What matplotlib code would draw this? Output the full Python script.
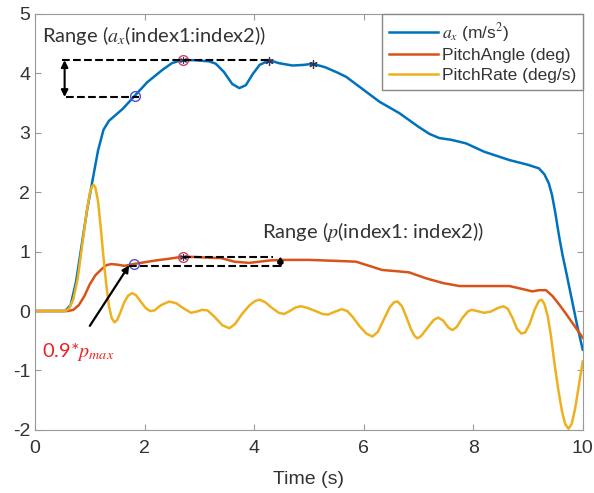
import numpy as np
import matplotlib
matplotlib.use("Agg")
import matplotlib.pyplot as plt

plt.rcParams['font.family'] = ['Liberation Sans', 'DejaVu Sans']
plt.rcParams['mathtext.fontset'] = 'stix'
plt.rcParams['axes.unicode_minus'] = False

# Longitudinal acceleration a_x (m/s^2)
t_ax = [0, 0.55, 0.65, 0.75, 0.85, 0.95, 1.05, 1.15, 1.25, 1.35, 1.45, 1.6, 1.82,
        2.05, 2.33, 2.5, 2.67, 2.9, 3.18, 3.3, 3.45, 3.6, 3.73, 3.85, 3.97, 4.1, 4.28, 4.45,
        4.7, 4.9, 5.07, 5.3, 5.5, 5.68, 6.0, 6.29, 6.65, 7.0, 7.2, 7.38, 7.6, 7.87,
        8.2, 8.66, 9.0, 9.2, 9.3, 9.38, 9.44, 9.5, 9.57, 9.63, 9.69, 9.8, 9.9, 10]
ax_vals = [0, 0, 0.1, 0.5, 1.1, 1.7, 2.2, 2.7, 3.05, 3.2, 3.28, 3.4, 3.62,
           3.85, 4.06, 4.17, 4.22, 4.22, 4.2, 4.16, 4.02, 3.82, 3.75, 3.8, 3.98, 4.14, 4.22, 4.17,
           4.13, 4.14, 4.16, 4.1, 4.02, 3.94, 3.72, 3.52, 3.33, 3.1, 2.98, 2.91, 2.88, 2.82,
           2.68, 2.54, 2.46, 2.4, 2.3, 2.15, 1.95, 1.65, 1.25, 0.95, 0.69, 0.2, -0.25, -0.65]

# Pitch angle (deg)
t_pa = [0, 0.6, 0.7, 0.8, 0.9, 1.0, 1.1, 1.21, 1.3, 1.39, 1.5, 1.63, 1.8, 2.0, 2.2,
        2.45, 2.67, 2.9, 3.1, 3.4, 3.64, 3.91, 4.1, 4.28, 4.5, 4.77, 5.0, 5.3, 5.6,
        5.86, 6.1, 6.34, 6.6, 6.83, 7.14, 7.45, 7.75, 8.2, 8.66, 8.9, 9.08, 9.2, 9.33,
        9.45, 9.57, 9.69, 9.85, 10]
pitch_angle = [0, 0, 0.02, 0.1, 0.25, 0.45, 0.6, 0.7, 0.77, 0.79, 0.78, 0.76, 0.79,
               0.82, 0.85, 0.88, 0.91, 0.91, 0.9, 0.89, 0.83, 0.81, 0.83, 0.85, 0.86,
               0.86, 0.86, 0.85, 0.84, 0.83, 0.76, 0.69, 0.67, 0.65, 0.55, 0.47, 0.42,
               0.42, 0.42, 0.37, 0.33, 0.35, 0.35, 0.25, 0.11, -0.04, -0.25, -0.45]

# Pitch rate (deg/s)
t_pr = [0, 0.55, 0.62, 0.7, 0.78, 0.86, 0.94, 1.0, 1.04, 1.07, 1.1, 1.15, 1.2, 1.25,
        1.3, 1.35, 1.4, 1.45, 1.5, 1.56, 1.63, 1.7, 1.77, 1.84, 1.92, 2.02, 2.1, 2.18,
        2.3, 2.45, 2.58, 2.72, 2.85, 2.95, 3.05, 3.15, 3.28, 3.42, 3.55, 3.65, 3.78,
        3.92, 4.02, 4.1, 4.2, 4.33, 4.45, 4.55, 4.65, 4.76, 4.86, 4.98, 5.12, 5.25,
        5.35, 5.48, 5.6, 5.7, 5.8, 5.92, 6.05, 6.16, 6.26, 6.38, 6.48, 6.56, 6.62,
        6.7, 6.78, 6.87, 6.93, 6.98, 7.05, 7.15, 7.28, 7.36, 7.45, 7.55, 7.62, 7.7,
        7.8, 7.9, 7.97, 8.07, 8.2, 8.32, 8.45, 8.55, 8.63, 8.72, 8.8, 8.88, 8.95,
        9.03, 9.12, 9.2, 9.25, 9.3, 9.36, 9.42, 9.48, 9.55, 9.62, 9.68, 9.74, 9.8,
        9.86, 9.93, 10]
pitch_rate = [0, 0, 0.04, 0.2, 0.55, 1.1, 1.65, 1.98, 2.1, 2.12, 2.08, 1.85, 1.4, 0.9,
              0.45, 0.08, -0.12, -0.19, -0.15, -0.02, 0.15, 0.26, 0.3, 0.27, 0.17, 0.05, 0.0, 0.01,
              0.1, 0.16, 0.13, 0.04, -0.03, -0.01, 0.02, 0.01, -0.1, -0.24, -0.29, -0.22, -0.05,
              0.1, 0.17, 0.19, 0.15, 0.05, -0.03, -0.05, 0.0, 0.06, 0.08, 0.05, 0.0, -0.05,
              -0.06, -0.01, 0.03, 0.0, -0.1, -0.25, -0.38, -0.43, -0.35, -0.12, 0.07, 0.15, 0.16,
              0.08, -0.1, -0.32, -0.42, -0.46, -0.42, -0.3, -0.15, -0.11, -0.16, -0.28, -0.32, -0.27,
              -0.12, -0.01, 0.02, 0.0, -0.03, -0.01, 0.05, 0.08, 0.04, -0.12, -0.3, -0.38, -0.36,
              -0.22, 0.02, 0.17, 0.19, 0.12, -0.08, -0.42, -0.85, -1.3, -1.68, -1.9, -1.98, -1.9,
              -1.65, -1.25, -0.85]

# index1 / peak / asterisk points
ax_idx1 = (1.82, 3.62)
ax_peak = (2.7, 4.22)
ax_stars = ([4.28, 5.07], [4.21, 4.15])
pa_idx1 = (1.8, 0.79)
pa_peak = (2.7, 0.91)

blue = '#0072BD'
orange = '#D95319'
yellow = '#EDB120'

fig = plt.figure(figsize=(5.94, 4.93), dpi=100)
ax = fig.add_axes([0.059, 0.128, 0.922, 0.844])

ax.plot(t_ax, ax_vals, color=blue, lw=1.8, label=r'$a_x$ (m/s$^2$)')
ax.plot(t_pa, pitch_angle, color=orange, lw=1.8, label='PitchAngle (deg)')
ax.plot(t_pr, pitch_rate, color=yellow, lw=1.8, label='PitchRate (deg/s)')

# markers
for p in [ax_idx1, pa_idx1]:
    ax.plot(*p, 'o', ms=7, mfc='none', mec='#4a55d0', mew=1)
for p in [ax_peak, pa_peak]:
    ax.plot(*p, 'o', ms=7, mfc='none', mec='#d04060', mew=1)
    ax.plot(*p, marker=(6, 2, 0), ms=5, color='#333355', mew=0.8)
ax.plot(*ax_stars, ls='none', marker=(6, 2, 0), ms=6, color='#333355', mew=0.9)

# range boxes
ax.plot([0.5, 4.28], [4.22, 4.22], 'k--', lw=1.5)
ax.plot([0.57, 1.9], [3.6, 3.6], 'k--', lw=1.5)
ax.annotate('', xy=(0.54, 3.6), xytext=(0.54, 4.22),
            arrowprops=dict(arrowstyle='<|-|>', color='k', lw=1.5, mutation_scale=10,
                            shrinkA=0, shrinkB=0))
ax.plot([2.7, 4.35], [0.91, 0.91], 'k--', lw=1.5)
ax.plot([1.72, 4.5], [0.76, 0.76], 'k--', lw=1.5)
ax.annotate('', xy=(4.48, 0.72), xytext=(4.48, 0.92),
            arrowprops=dict(arrowstyle='<|-|>', color='k', lw=1.5, mutation_scale=8,
                            shrinkA=0, shrinkB=0))
ax.annotate('', xy=(1.72, 0.77), xytext=(1.0, -0.25),
            arrowprops=dict(arrowstyle='-|>', color='k', lw=1.6, mutation_scale=10,
                            shrinkA=0, shrinkB=0))

txt_font = ['Lato', 'DejaVu Sans']
ax.text(0.12, 4.63, r'Range ($a_x$(index1:index2))', fontsize=14.5, family=txt_font,
        color='#333333', va='center')
ax.text(4.15, 1.33, r'Range ($p$(index1: index2))', fontsize=14.5, family=txt_font,
        color='#333333', va='center')
ax.text(0.12, -0.69, r'0.9*$p_{max}$', fontsize=14.5, family=txt_font,
        color='#ee2222', va='center')

ax.set_xlim(0, 10)
ax.set_ylim(-2, 5)
ax.set_xticks([0, 2, 4, 6, 8, 10])
ax.set_yticks(range(-2, 6))
ax.set_xlabel('Time (s)', fontsize=14, color='#333333', labelpad=10)
ax.tick_params(direction='in', length=4, top=True, right=True, labelsize=14,
               colors='#999999', labelcolor='#333333')
ax.tick_params(axis='x', pad=7)
for s in ax.spines.values():
    s.set_color('#999999')

leg = ax.legend(loc='upper right', borderaxespad=0, fontsize=12.5, handlelength=2.8,
                handletextpad=0.2, labelspacing=0.25, borderpad=0.4, fancybox=False,
                framealpha=1)
leg.get_frame().set_edgecolor('#888888')
for text in leg.get_texts():
    text.set_color('#333333')

fig.savefig('out.png', dpi=100)
